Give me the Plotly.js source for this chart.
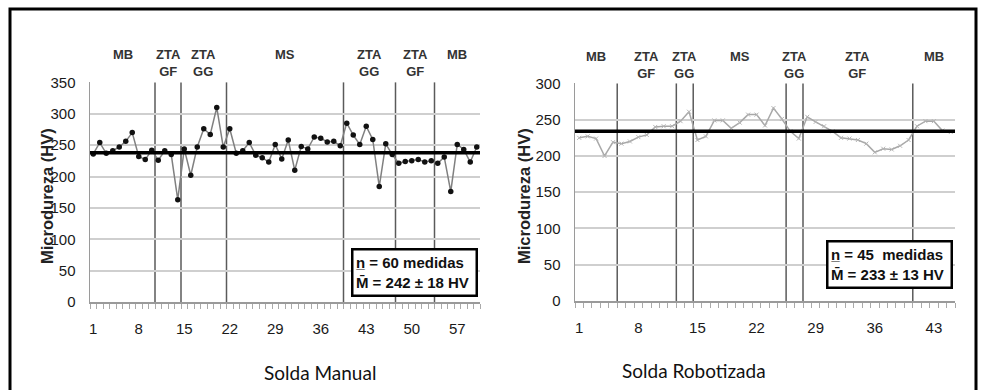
<!DOCTYPE html>
<html><head><meta charset="utf-8">
<script src="https://cdn.plot.ly/plotly-3.0.1.min.js"></script>
<style>html,body{margin:0;padding:0;background:#fff}#chart{width:984px;height:390px}</style>
</head><body><div id="chart"></div>
<script>
// ---------- DATA ----------
const manualValues = [236,254,237,241,247,256,270,232,227,242,
  226,241,235,163,244,202,247,276,267,310,
  247,276,237,241,254,234,230,223,251,228,
  258,210,248,244,263,261,255,256,249,285,
  266,251,280,259,184,252,235,221,224,225,
  227,223,225,221,231,176,251,243,223,247];
const roboValues = [225,227,224,200,219,217,220,226,229,240,
  241,241,248,261,222,227,249,249,238,246,
  257,257,242,266,251,234,224,254,247,241,
  234,225,224,222,217,205,210,209,214,222,
  241,248,248,235,233];
const manualMean = 238;
const roboMean = 234;
const manualZoneEdges = [0.5,10.5,14.5,21.5,39.5,47.5,53.5,60.5];
const roboZoneEdges = [0.5,5.5,12.5,14.5,25.5,27.5,40.5,45.5];
const manualZoneLabels = ['MB','ZTA<br>GF','ZTA<br>GG','MS','ZTA<br>GG','ZTA<br>GF','MB'];
const roboZoneLabels = ['MB','ZTA<br>GF','ZTA<br>GG','MS','ZTA<br>GG','ZTA<br>GF','MB'];
const manualTicks = [1,8,15,22,29,36,43,50,57];
const roboTicks = [1,8,15,22,29,36,43];
const manualBox = 'n\u0332 = 60 medidas<br>M\u0304 = 242 \u00B1 18 HV';
const roboBox = 'n\u0332 = 45  medidas<br>M\u0304 = 233 \u00B1 13 HV';
const yTitle = 'Microdureza (HV)';
const manualTitle = 'Solda Manual';
const roboTitle = 'Solda Robotizada';

// ---------- LAYOUT HELPERS ----------
const W = 984, H = 390;
const px = x => x / W;
const py = y => 1 - y / H;
const manualX = manualValues.map((_, i) => i + 1);
const roboX = roboValues.map((_, i) => i + 1);
const tickFont = {family: 'Liberation Sans Narrow, Arial Narrow, Liberation Sans, Arial, sans-serif', size: 15, color: '#1a1a1a'};
const boldFont = {family: 'Liberation Sans Narrow, Arial Narrow, Liberation Sans, Arial, sans-serif', size: 13, color: '#333', weight: 'bold'};

const traces = [
  {x: manualX, y: manualValues, xaxis: 'x', yaxis: 'y', type: 'scatter', mode: 'lines+markers',
   line: {color: '#808080', width: 1.5}, marker: {color: '#111', size: 5.5}, hoverinfo: 'x+y'},
  {x: [manualZoneEdges[0], manualZoneEdges[manualZoneEdges.length-1]], y: [manualMean, manualMean], xaxis: 'x', yaxis: 'y',
   type: 'scatter', mode: 'lines', line: {color: '#000', width: 3.5}, hoverinfo: 'y'},
  {x: roboX, y: roboValues, xaxis: 'x2', yaxis: 'y2', type: 'scatter', mode: 'lines+markers',
   line: {color: '#a8a8a8', width: 1.5}, marker: {color: '#b5b5b5', size: 4, symbol: 'x-thin-open', line: {color: '#b5b5b5', width: 1}}, hoverinfo: 'x+y'},
  {x: [roboZoneEdges[0], roboZoneEdges[roboZoneEdges.length-1] + 0.1], y: [roboMean, roboMean], xaxis: 'x2', yaxis: 'y2',
   type: 'scatter', mode: 'lines', line: {color: '#000', width: 3.5}, hoverinfo: 'y', cliponaxis: false}
];

const shapes = [];
function zoneLines(edges, xref, yref, ymax) {
  edges.slice(1, -1).forEach(e => shapes.push({type: 'line', xref, yref, x0: e, x1: e, y0: 0, y1: ymax,
    line: {color: '#5a5a5a', width: 1.5}, layer: 'below'}));
}
zoneLines(manualZoneEdges, 'x', 'y', 350);
zoneLines(roboZoneEdges, 'x2', 'y2', 300);
// white halos behind the info boxes
shapes.push({type: 'rect', xref: 'paper', yref: 'paper', x0: px(346), x1: px(483), y0: py(298), y1: py(243), fillcolor: '#fff', line: {width: 0}, layer: 'below'});
shapes.push({type: 'rect', xref: 'paper', yref: 'paper', x0: px(821), x1: px(957), y0: py(296), y1: py(235), fillcolor: '#fff', line: {width: 0}, layer: 'below'});
// outer frame
shapes.push({type: 'path', xref: 'paper', yref: 'paper',
  path: `M ${px(10)} ${py(395)} L ${px(10)} ${py(9)} L ${px(976)} ${py(9)} L ${px(976)} ${py(395)}`,
  line: {color: '#000', width: 3}});

const annotations = [];
function zoneText(edges, labels, xref, ytop) {
  labels.forEach((t, i) => annotations.push({xref, yref: 'paper', x: (edges[i] + edges[i+1]) / 2, y: py(ytop),
    yanchor: 'top', xanchor: 'center', text: t, showarrow: false, font: boldFont}));
}
zoneText(manualZoneEdges, manualZoneLabels, 'x', 45);
zoneText(roboZoneEdges, roboZoneLabels, 'x2', 47);

const boxFont = {family: 'Liberation Sans, Arial, sans-serif', size: 15, color: '#111', weight: 'bold'};
annotations.push({xref: 'paper', yref: 'paper', x: px(414), y: py(272.5), xanchor: 'center', yanchor: 'middle',
  text: manualBox, showarrow: false, align: 'left', font: boxFont, bgcolor: '#fff', bordercolor: '#000',
  borderwidth: 2.5, borderpad: 2, width: 118, height: 40});
annotations.push({xref: 'paper', yref: 'paper', x: px(889), y: py(264), xanchor: 'center', yanchor: 'middle',
  text: roboBox, showarrow: false, align: 'left', font: boxFont, bgcolor: '#fff', bordercolor: '#000',
  borderwidth: 2.5, borderpad: 2, width: 118, height: 40});

const yTitleFont = {family: 'Liberation Sans, Arial, sans-serif', size: 16.5, color: '#222', weight: 'bold'};
annotations.push({xref: 'paper', yref: 'paper', x: px(36), y: py(196), text: yTitle, textangle: -90, showarrow: false, font: yTitleFont});
annotations.push({xref: 'paper', yref: 'paper', x: px(524), y: py(196), text: yTitle, textangle: -90, showarrow: false, font: yTitleFont});

const capFont = {family: 'Lato, Open Sans, sans-serif', size: 19, color: '#111'};
annotations.push({xref: 'paper', yref: 'paper', x: px(262), y: py(386), text: manualTitle, showarrow: false, font: capFont});
annotations.push({xref: 'paper', yref: 'paper', x: px(768), y: py(384), text: roboTitle, showarrow: false, font: capFont});

function xax(domain, tickvals, edges) {
  return {domain, range: [edges[0], edges[edges.length-1]], tickmode: 'array', tickvals, ticktext: tickvals.map(String),
    showgrid: false, zeroline: false, showline: true, linecolor: '#9a9a9a', linewidth: 1.5, ticks: '',
    ticklabelstandoff: 12, tickfont: tickFont, fixedrange: true,
    minor: {tick0: 0.5, dtick: 1, ticks: 'outside', ticklen: 5, tickcolor: '#aaa', tickwidth: 1, showgrid: false}};
}
function yax(domain, anchor, max) {
  return {domain, anchor, range: [0, max + 0.6], dtick: 50, tick0: 0, showgrid: true, gridcolor: '#cfcfcf', gridwidth: 2,
    zeroline: false, showline: true, linecolor: '#9a9a9a', linewidth: 1.5, ticks: '', ticklabelstandoff: 10,
    tickfont: tickFont, fixedrange: true};
}

const layout = {
  width: W, height: H, margin: {l: 0, r: 0, t: 0, b: 0}, showlegend: false,
  paper_bgcolor: '#fff', plot_bgcolor: 'rgba(0,0,0,0)',
  xaxis: Object.assign(xax([px(90), px(480)], manualTicks, manualZoneEdges), {anchor: 'y'}),
  yaxis: yax([py(302), py(82)], 'x', 350),
  xaxis2: Object.assign(xax([px(575), px(955)], roboTicks, roboZoneEdges), {anchor: 'y2'}),
  yaxis2: yax([py(301), py(83)], 'x2', 300),
  shapes, annotations
};

Plotly.newPlot('chart', traces, layout, {displayModeBar: false, staticPlot: true});
</script></body></html>
